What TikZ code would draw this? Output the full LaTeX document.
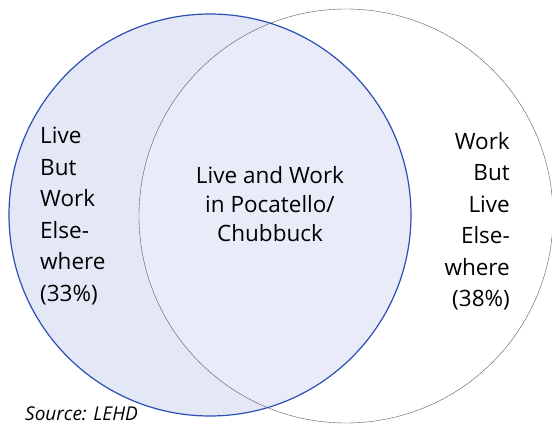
\documentclass[tikz,border=0pt]{standalone}
\usepackage{fontspec}
\setmainfont{Open Sans}
\usetikzlibrary{positioning}

\definecolor{liveblue}{HTML}{2B4FB3}
\definecolor{livefill}{HTML}{E3E7F6}
\definecolor{bothfill}{HTML}{E9ECF8}
\definecolor{workgray}{HTML}{5A5A5A}

\tikzset{
  vlabel/.style={inner sep=0pt, font=\fontsize{22.5}{31.5}\selectfont},
}

\begin{document}
\begin{tikzpicture}[x=1pt, y=-1pt]
\useasboundingbox (0,0) rectangle (552,428);

% circles
\fill[livefill] (210,215) circle (201);
\begin{scope}
  \clip (210,215) circle (201);
  \fill[bothfill] (346,216) circle (207);
\end{scope}
\draw[workgray, thin] (346,216) circle (207);
\draw[liveblue, line width=1.2pt] (210,215) circle (201);

% labels
\node[vlabel, align=left, anchor=west] (live) at (40,216)
  {Live\\But\\Work\\Else-\\where\\(33\%)};
\node[vlabel, align=center, font=\fontsize{22.5}{29}\selectfont] (both) at (270,204)
  {Live and Work\\in Pocatello/\\Chubbuck};
\node[vlabel, align=right, anchor=east] (work) at (510,221)
  {Work\\But\\Live\\Else-\\where\\(38\%)};

\node[vlabel, anchor=base west, font=\fontsize{19}{24}\selectfont\itshape] (src) at (25,420) {Source: LEHD};
\end{tikzpicture}
\end{document}
